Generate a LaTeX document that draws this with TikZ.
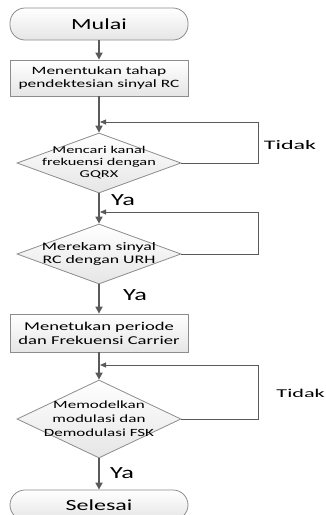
\documentclass[tikz,border=0pt]{standalone}
\usepackage{fontspec}
\setmainfont[FakeStretch=1.55]{Carlito}
\newfontfamily\widerfont[FakeStretch=1.85]{Carlito}
\usetikzlibrary{arrows.meta,shapes.geometric}
\definecolor{ln}{HTML}{5A5A5A}
\definecolor{bd}{HTML}{8C8C8C}
\tikzset{
  base/.style={draw=bd, line width=0.8pt, top color=white, bottom color=black!10, inner sep=0pt},
  term/.style={base, rounded corners=15pt, minimum width=178pt, minimum height=32pt, font=\fontsize{15.5}{17}\selectfont},
  procbox/.style={base, minimum width=178pt, minimum height=36pt, align=center, font=\fontsize{11.2}{13}\selectfont},
  dia/.style={base, diamond, aspect=2.7, minimum width=164pt, minimum height=60pt},
  diatext/.style={align=center, font=\fontsize{10.5}{12}\selectfont, inner sep=0pt},
  flow/.style={draw=ln, line width=1.6pt, -{Triangle[length=7pt,width=7pt]}},
  loop/.style={draw=ln, line width=0.8pt, -{Triangle[length=6pt,width=5pt]}},
  lab/.style={font=\fontsize{17}{19}\selectfont, inner sep=0pt},
}
\begin{document}
\begin{tikzpicture}[x=1pt,y=-1pt]
\useasboundingbox (0,0) rectangle (326,515);
\node[term] (mulai) at (99,24) {Mulai};
\node[procbox] (b1) at (99,78) {Menentukan tahap\\pendektesian sinyal RC};
\node[dia] (d1) at (99,163) {};
\node[diatext] at (d1) {Mencari kanal\\frekuensi dengan\\GQRX};
\node[dia] (d2) at (99,254) {};
\node[diatext, font=\fontsize{11.5}{13}\selectfont] at (d2) {Merekam sinyal\\RC dengan URH};
\node[procbox, minimum height=38pt, font=\fontsize{12}{14}\selectfont] (b2) at (99,333) {Menetukan periode\\dan Frekuensi Carrier};
\node[dia, minimum height=78pt, aspect=2.1] (d3) at (99,419) {};
\node[diatext, font=\fontsize{11}{14}\selectfont] at (d3) {Memodelkan\\modulasi dan\\Demodulasi FSK};
\node[term, minimum height=30pt] (sel) at (99,505) {Selesai};

\coordinate (j1) at (100,122);
\coordinate (j2) at (100,212);
\coordinate (j3) at (100,365);

\draw[flow] (mulai) -- (b1);
\draw[flow] (b1) -- (d1);
\draw[flow] (d1) -- (d2);
\draw[flow] (d2) -- (b2);
\draw[flow] (b2) -- (d3);
\draw[flow] (d3) -- (sel);

\draw[loop] (d1.east) -- ++(77,0) |- (j1);
\draw[loop] (d2.east) -- ++(77,0) |- (j2);
\draw[loop] (d3.east) -- ++(77,0) |- (j3);

\node[lab, font=\widerfont\fontsize{13}{15}\selectfont] (t1) at (290,145) {Tidak};
\node[lab] (y1) at (123,200) {Ya};
\node[lab] (y2) at (135,295) {Ya};
\node[lab] (y3) at (122,473) {Ya};
\node[lab, anchor=east, font=\widerfont\fontsize{12}{14}\selectfont] (t2) at (325,393) {Tidak};
\end{tikzpicture}
\end{document}
